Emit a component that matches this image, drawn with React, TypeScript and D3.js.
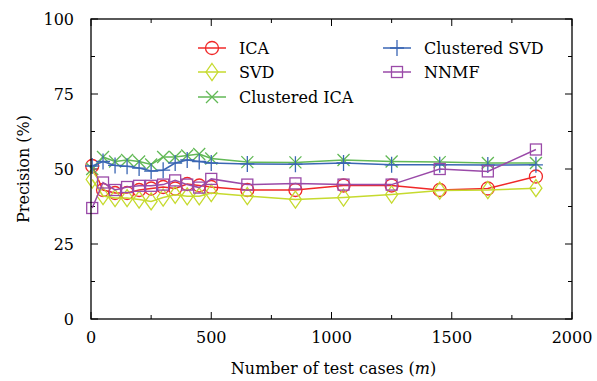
import React from "react";
import * as d3 from "d3";

// test-case counts (x) and precision values (%) per method
const testCases = [5, 50, 100, 150, 200, 250, 300, 350, 400, 450, 500, 650, 850, 1050, 1250, 1450, 1650, 1850];
const icaValues = [51, 43, 42, 42, 43, 43.5, 44, 43.5, 45, 44.5, 44, 43, 43, 44.5, 44.5, 43, 43.5, 47.5];
const svdValues = [46.5, 41, 40.3, 40.3, 39.8, 39.2, 40.5, 41.4, 40.9, 40.9, 42, 41, 39.8, 40.5, 41.5, 42.8, 43, 43.6];
const clusteredIcaValues = [50, 54, 52.5, 53, 52.5, 51.5, 54, 54, 54.5, 55, 53.5, 52.3, 52.2, 53, 52.5, 52.3, 52, 52];
const clusteredSvdValues = [51, 52.5, 51.2, 50.9, 50.3, 49.3, 49.6, 52, 53, 52.5, 52, 51.7, 51.6, 52, 51.4, 51.4, 51.3, 51.4];
const nnmfValues = [37, 45.5, 43, 44, 44.4, 44.4, 44.8, 46.2, 44.8, 43.8, 46.7, 44.8, 45.2, 44.8, 44.8, 50, 49.2, 56.5];

const xTicks = [0, 500, 1000, 1500, 2000];
const yTicks = [0, 25, 50, 75, 100];

const series = [
  { name: "ICA", values: icaValues, color: "#f02828", marker: "circle" },
  { name: "SVD", values: svdValues, color: "#c6da2e", marker: "diamond" },
  { name: "Clustered ICA", values: clusteredIcaValues, color: "#62b956", marker: "cross" },
  { name: "Clustered SVD", values: clusteredSvdValues, color: "#3a66b4", marker: "plus" },
  { name: "NNMF", values: nnmfValues, color: "#9a4aa8", marker: "square" },
];

const textStyle = { fontFamily: '"DejaVu Serif", "Liberation Serif", serif' };

function Marker({ type, x, y, color }) {
  const common = { fill: "none", stroke: color, strokeWidth: 1.3 };
  if (type === "circle") return <circle cx={x} cy={y} r={6.5} {...common} />;
  if (type === "diamond")
    return <path d={`M${x},${y - 8.5}L${x + 6},${y}L${x},${y + 8.5}L${x - 6},${y}Z`} {...common} />;
  if (type === "cross")
    return <path d={`M${x - 6},${y - 6}L${x + 6},${y + 6}M${x - 6},${y + 6}L${x + 6},${y - 6}`} {...common} />;
  if (type === "plus")
    return <path d={`M${x - 7},${y}L${x + 7},${y}M${x},${y - 8}L${x},${y + 8}`} {...common} />;
  return <rect x={x - 5.5} y={y - 5.5} width={11} height={11} {...common} />;
}

export default function App() {
  const width = 597,
    height = 381;
  const left = 91,
    right = 572,
    top = 19,
    bottom = 319;

  const x = d3.scaleLinear().domain([0, 2000]).range([left, right]);
  const y = d3.scaleLinear().domain([0, 100]).range([bottom, top]);

  const line = d3
    .line()
    .x((d) => x(d[0]))
    .y((d) => y(d[1]));

  // minor ticks every 250 / 12.5, majors at the labelled ones
  const xMinor = d3.range(0, 2001, 250);
  const yMinor = d3.range(0, 100.1, 12.5);

  const tickPaths = [];
  xMinor.forEach((v) => {
    const len = v % 500 === 0 ? 7 : 4;
    tickPaths.push(`M${x(v)},${bottom}v${-len}M${x(v)},${top}v${len}`);
  });
  yMinor.forEach((v) => {
    const len = v % 25 === 0 ? 7 : 4;
    tickPaths.push(`M${left},${y(v)}h${len}M${right},${y(v)}h${-len}`);
  });

  const legendRows = [
    { s: series[0], lx: 198, ly: 48 },
    { s: series[1], lx: 198, ly: 72 },
    { s: series[2], lx: 198, ly: 97 },
    { s: series[3], lx: 383, ly: 48 },
    { s: series[4], lx: 383, ly: 72 },
  ];

  return (
    <svg width={width} height={height} style={{ position: "absolute", left: 0, top: 0 }}>
      <rect width={width} height={height} fill="white" />
      <path d={tickPaths.join("")} stroke="black" strokeWidth={1} fill="none" />

      {series.map((s) => {
        const pts = testCases.map((t, i) => [t, s.values[i]]);
        return (
          <g key={s.name}>
            <path d={line(pts)} fill="none" stroke={s.color} strokeWidth={1.5} />
            {pts.map((p, i) => (
              <Marker key={i} type={s.marker} x={x(p[0])} y={y(p[1])} color={s.color} />
            ))}
          </g>
        );
      })}

      <rect x={left} y={top} width={right - left} height={bottom - top} fill="none" stroke="black" strokeWidth={1.3} />

      <g style={textStyle}>
        {xTicks.map((v) => (
          <text key={v} x={x(v)} y={343} textAnchor="middle" fontSize={16}>
            {v}
          </text>
        ))}
        {yTicks.map((v) => (
          <text key={v} x={74} y={y(v) + 6} textAnchor="end" fontSize={16}>
            {v}
          </text>
        ))}

        <text x={(left + right) / 2 + 2} y={374} textAnchor="middle" fontSize={16}>
          Number of test cases (<tspan fontStyle="italic">m</tspan>)
        </text>
        <text transform={`translate(29,${(top + bottom) / 2}) rotate(-90)`} textAnchor="middle" fontSize={16}>
          Precision (%)
        </text>

        {legendRows.map(({ s, lx, ly }) => (
          <g key={s.name}>
            <line x1={lx} x2={lx + 28} y1={ly} y2={ly} stroke={s.color} strokeWidth={1.5} />
            <Marker type={s.marker} x={lx + 14} y={ly} color={s.color} />
            <text x={lx + 41} y={ly + 6} fontSize={16}>
              {s.name}
            </text>
          </g>
        ))}
      </g>
    </svg>
  );
}
